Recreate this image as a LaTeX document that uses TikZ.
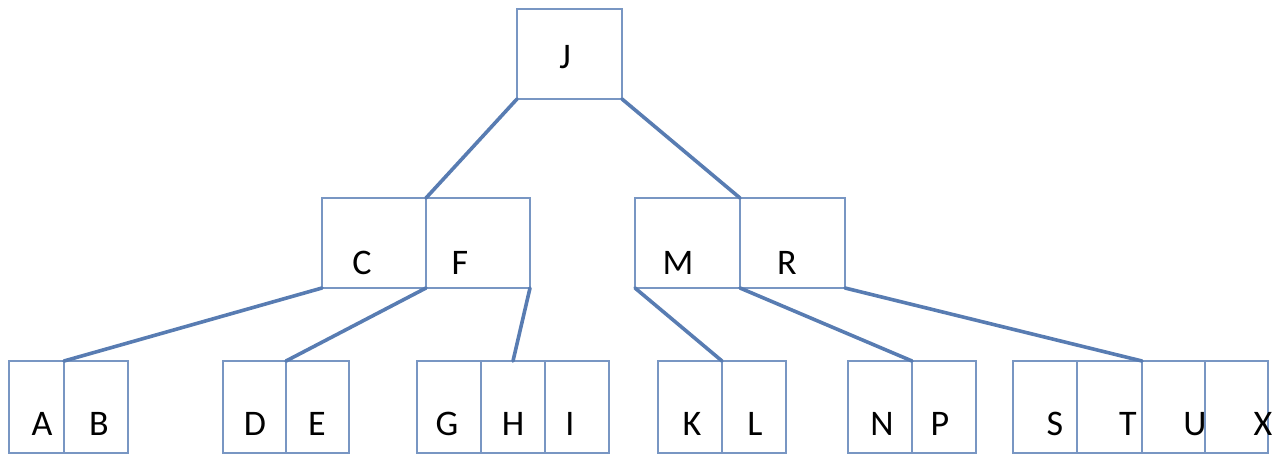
\documentclass[tikz,border=0pt]{standalone}
\usepackage{fontspec}
\setmainfont{Carlito}
\definecolor{boxc}{RGB}{120,150,195}
\definecolor{edgec}{RGB}{88,124,178}
\begin{document}
\begin{tikzpicture}[x=1pt,y=-1pt,
  box/.style={draw=boxc,line width=1.6pt,rectangle,inner sep=0pt,outer sep=0pt,minimum height=#1},
  lvl/.style={box=90pt},
  leaf/.style={box=92pt},
  link/.style={draw=edgec,line width=3.6pt,line cap=round},
  lab/.style={anchor=base,inner sep=0pt,font=\fontsize{36}{40}\selectfont}]
\useasboundingbox (0,0) rectangle (1272,455);
% root
\node[lvl,minimum width=105pt] (J) at (569.5,54) {};
% level 2
\node[lvl,minimum width=104pt] (C) at (374,243) {};
\node[lvl,minimum width=104pt] (F) at (478,243) {};
\node[lvl,minimum width=105pt] (M) at (687.5,243) {};
\node[lvl,minimum width=105pt] (R) at (792.5,243) {};
% leaves
\node[leaf,minimum width=55pt] (A) at (36.5,407) {};
\node[leaf,minimum width=64pt] (B) at (96,407) {};
\node[leaf,minimum width=63pt] (D) at (254.5,407) {};
\node[leaf,minimum width=63pt] (E) at (317.5,407) {};
\node[leaf,minimum width=64pt] (G) at (449,407) {};
\node[leaf,minimum width=64pt] (H) at (513,407) {};
\node[leaf,minimum width=64pt] (I) at (577,407) {};
\node[leaf,minimum width=64pt] (K) at (690,407) {};
\node[leaf,minimum width=64pt] (L) at (754,407) {};
\node[leaf,minimum width=64pt] (N) at (880,407) {};
\node[leaf,minimum width=64pt] (P) at (944,407) {};
\node[leaf,minimum width=64pt] (S) at (1045,407) {};
\node[leaf,minimum width=65pt] (T) at (1109.5,407) {};
\node[leaf,minimum width=63pt] (U) at (1173.5,407) {};
\node[leaf,minimum width=63pt] (X) at (1236.5,407) {};
% connectors
\draw[link] (J.south west) -- (C.north east);
\draw[link] (J.south east) -- (M.north east);
\draw[link] (C.south west) -- (A.north east);
\draw[link] (C.south east) -- (D.north east);
\draw[link] (F.south east) -- (H.north);
\draw[link] (M.south west) -- (K.north east);
\draw[link] (M.south east) -- (N.north east);
\draw[link] (R.south east) -- (T.north east);
% labels
\node[lab] (tJ) at (565,68) {J};
\node[lab] (tC) at (362,274) {C};
\node[lab] (tF) at (460,274) {F};
\node[lab] (tM) at (678,274) {M};
\node[lab] (tR) at (787,274) {R};
\node[lab] (tA) at (42,435) {A};
\node[lab] (tB) at (99,435) {B};
\node[lab] (tD) at (255,435) {D};
\node[lab] (tE) at (317,435) {E};
\node[lab] (tG) at (447,435) {G};
\node[lab] (tH) at (513,435) {H};
\node[lab] (tI) at (570,435) {I};
\node[lab] (tK) at (692,435) {K};
\node[lab] (tL) at (755,435) {L};
\node[lab] (tN) at (882,435) {N};
\node[lab] (tP) at (940,435) {P};
\node[lab] (tS) at (1055,435) {S};
\node[lab] (tT) at (1128,435) {T};
\node[lab] (tU) at (1195,435) {U};
\node[lab] (tX) at (1263,435) {X};
\end{tikzpicture}
\end{document}
